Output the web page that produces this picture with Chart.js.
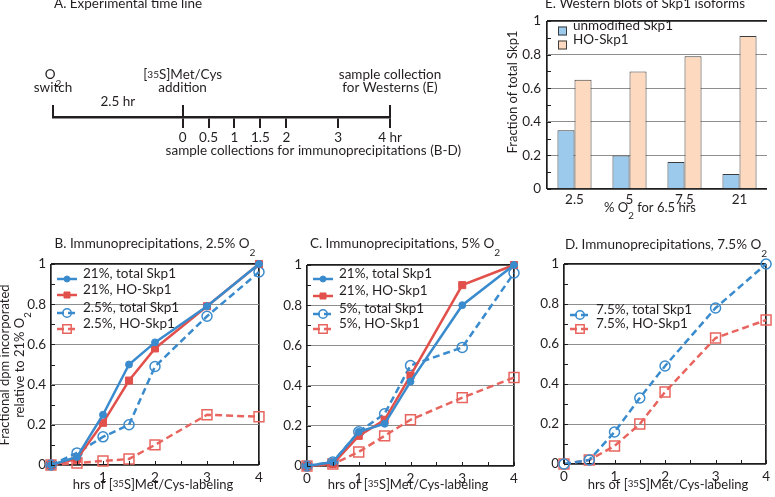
<!DOCTYPE html>
<html>
<head>
<meta charset="utf-8">
<script src="https://cdn.jsdelivr.net/npm/chart.js@4.4.0/dist/chart.umd.min.js"></script>
<style>
  body { margin: 0; background: #fff; }
  #wrap { position: relative; width: 775px; height: 497px; }
  #wrap canvas { position: absolute; left: 0; top: 0; }
</style>
</head>
<body>
<div id="wrap">
  <canvas id="timeline" width="775" height="497"></canvas>
  <canvas id="westerns" width="775" height="497"></canvas>
  <canvas id="ipB" width="775" height="497"></canvas>
  <canvas id="ipC" width="775" height="497"></canvas>
  <canvas id="ipD" width="775" height="497"></canvas>
</div>
<script>
Chart.defaults.font.family = "Lato, 'Open Sans', sans-serif";
Chart.defaults.font.size = 13.5;
Chart.defaults.color = "#231f20";

// A. time line
var sampleTimes = [0, 0.5, 1, 1.5, 2, 3, 4];
var switchLead = 2.5;
var eventTimes = [-2.5, 0, 4];
var eventLabels = [
  [["O", {sub: "2"}], ["switch"]],
  [["[", {sup: "35"}, "S]Met/Cys"], ["addition"]],
  [["sample collection"], ["for Westerns (E)"]]
];

// B-D. immunoprecipitations (x = hrs of labeling)
var hours = [0, 0.5, 1, 1.5, 2, 3, 4];
var b21Total = [0, 0.04, 0.25, 0.50, 0.61, 0.79, 1.0];
var b21HO    = [0, 0.03, 0.21, 0.42, 0.58, 0.79, 1.0];
var b25Total = [0, 0.06, 0.14, 0.20, 0.49, 0.74, 0.96];
var b25HO    = [0, 0.01, 0.02, 0.03, 0.10, 0.25, 0.24];
var c21Total = [0, 0.02, 0.17, 0.21, 0.42, 0.80, 1.0];
var c21HO    = [0, 0.01, 0.15, 0.23, 0.45, 0.90, 1.0];
var c5Total  = [0, 0.02, 0.17, 0.26, 0.50, 0.59, 0.96];
var c5HO     = [0, 0.01, 0.07, 0.15, 0.23, 0.34, 0.44];
var d75Total = [0, 0.02, 0.16, 0.33, 0.49, 0.78, 1.0];
var d75HO    = [0, 0.02, 0.09, 0.20, 0.36, 0.63, 0.72];

// E. western blots
var oxygenLevels = ["2.5", "5", "7.5", "21"];
var unmodifiedSkp1 = [0.35, 0.20, 0.16, 0.09];
var hoSkp1 = [0.65, 0.70, 0.79, 0.91];

var W = 775, H = 497;
var INK = "#231f20";
var EDGE = "#1e1e1e";
var GRID = "#8e8e8e";
var CLEAR = "rgba(0,0,0,0)";
var BLUE = "#3a8bcd";
var RED = "#e2504c";
var RED_LIGHT = "#e8655f";
var FONT = "Lato, 'Open Sans', sans-serif";

// text with sub/superscripts
function segText(s) { return typeof s === "string" ? s : (s.sub || s.sup); }
function segFont(s, size) {
  return (typeof s === "string" ? size : size * 0.75) + "px " + FONT;
}
function rich(ctx, segs, x, y, size, align) {
  var w = 0;
  segs.forEach(function (s) {
    ctx.font = segFont(s, size);
    w += ctx.measureText(segText(s)).width;
  });
  var cx = align === "center" ? x - w / 2 : (align === "right" ? x - w : x);
  ctx.textAlign = "left";
  ctx.textBaseline = "middle";
  ctx.fillStyle = INK;
  segs.forEach(function (s) {
    ctx.font = segFont(s, size);
    var dy = 0;
    if (s.sub) dy = size * 0.3;
    if (s.sup) dy = -size * 0.36;
    ctx.fillText(segText(s), cx, y + dy);
    cx += ctx.measureText(segText(s)).width;
  });
}
function richRotated(ctx, segs, x, y, size) {
  ctx.save();
  ctx.translate(x, y);
  ctx.rotate(-Math.PI / 2);
  rich(ctx, segs, 0, 0, size, "center");
  ctx.restore();
}

// the plot box comes from the grid lines at the ends of each axis
function yIsEdge(c) { return c.tick && (c.tick.value < 0.01 || c.tick.value > 0.99); }
function yGridColor(c) { return yIsEdge(c) ? EDGE : GRID; }
function yGridWidth(c) { return yIsEdge(c) ? 1.7 : 1; }
function xIsEdge(c) { return c.tick && (c.tick.value === 0 || c.tick.value === 4); }

// small inward ticks along the left and bottom edges
function innerTicks(chart, xStep, yStep) {
  var a = chart.chartArea, ctx = chart.ctx;
  var xs = chart.scales.x, ys = chart.scales.y;
  ctx.save();
  ctx.setLineDash([]);
  ctx.strokeStyle = EDGE;
  ctx.lineWidth = 1;
  ctx.beginPath();
  for (var v = 0; v <= 1.0001; v += yStep) {
    var py = Math.round(ys.getPixelForValue(v)) + 0.5;
    ctx.moveTo(a.left, py);
    ctx.lineTo(a.left + 4, py);
  }
  if (xStep) {
    for (var u = 0; u <= 4.0001; u += xStep) {
      var px = Math.round(xs.getPixelForValue(u)) + 0.5;
      ctx.moveTo(px, a.bottom);
      ctx.lineTo(px, a.bottom - 4);
    }
  }
  ctx.stroke();
  ctx.restore();
}

function padFor(area, yw, xh) {
  return { left: area.l - yw, top: area.t, right: W - area.r, bottom: H - area.b - xh };
}

function fmtY(v) { return String(Math.round(v * 10) / 10); }

function series(label, values, kind) {
  var dashed = kind.indexOf("dash") === 0;
  var square = kind.indexOf("Square") > 0;
  var color = square ? (dashed ? RED_LIGHT : RED) : BLUE;
  return {
    label: label,
    data: hours.map(function (h, i) { return { x: h, y: values[i] }; }),
    borderColor: color,
    borderWidth: 2.5,
    borderDash: dashed ? [7, 4] : [],
    pointStyle: square ? "rect" : "circle",
    pointRadius: dashed ? (square ? 7 : 5) : (square ? 5 : 3.5),
    pointBackgroundColor: dashed ? "rgba(255,255,255,0)" : color,
    pointBorderColor: color,
    pointBorderWidth: dashed ? 1.5 : 1,
    tension: 0,
    clip: false
  };
}

function ipPanel(id, p) {
  var yw = 40, xh = 24;
  new Chart(document.getElementById(id), {
    type: "line",
    data: { datasets: p.datasets },
    options: {
      responsive: false,
      animation: false,
      devicePixelRatio: 1,
      layout: { padding: padFor(p.area, yw, xh) },
      plugins: { legend: { display: false }, tooltip: { enabled: false } },
      scales: {
        x: {
          type: "linear", min: 0, max: 4,
          afterFit: function (s) { s.height = xh; },
          border: { display: false },
          grid: {
            display: true, drawTicks: false,
            color: function (c) { return xIsEdge(c) ? EDGE : CLEAR; },
            lineWidth: function (c) { return xIsEdge(c) ? 1.7 : 1; }
          },
          ticks: {
            stepSize: 1, padding: 5, maxRotation: 0,
            callback: function (v) { return (v === 0 && !p.showZero) ? "" : String(v); }
          }
        },
        y: {
          min: 0, max: 1,
          afterFit: function (s) { s.width = yw; },
          border: { display: false },
          grid: { drawTicks: false, color: yGridColor, lineWidth: yGridWidth },
          ticks: { stepSize: 0.2, padding: 5, callback: fmtY }
        }
      }
    },
    plugins: [{
      id: "decor" + id,
      afterDatasetsDraw: function (chart) {
        var ctx = chart.ctx, a = chart.chartArea;
        chart.data.datasets.forEach(function (ds, i) {
          var y = p.legendY[i], x0 = a.left + 6;
          ctx.save();
          ctx.strokeStyle = ds.borderColor;
          ctx.lineWidth = ds.borderWidth;
          ctx.setLineDash(ds.borderDash);
          ctx.beginPath();
          ctx.moveTo(x0, y);
          ctx.lineTo(x0 + 20, y);
          ctx.stroke();
          ctx.setLineDash([]);
          ctx.fillStyle = ds.pointBackgroundColor;
          ctx.strokeStyle = ds.pointBorderColor;
          ctx.lineWidth = ds.pointBorderWidth;
          Chart.helpers.drawPoint(ctx, {
            pointStyle: ds.pointStyle, rotation: 0,
            radius: ds.pointRadius * 0.85, borderWidth: ds.pointBorderWidth
          }, x0 + 10, y);
          ctx.restore();
          ctx.save();
          rich(ctx, [ds.label], x0 + 26, y, 13.5, "left");
          ctx.restore();
        });
        ctx.save();
        rich(ctx, p.title, p.titleX, p.titleY, 13.5, "center");
        rich(ctx, ["hrs of [", {sup: "35"}, "S]Met/Cys-labeling"], p.xTitleX, 489, 13, "center");
        if (p.yTitle) {
          richRotated(ctx, p.yTitle[0], 9, 365, 13);
          richRotated(ctx, p.yTitle[1], 24, 365, 13);
        }
        ctx.restore();
      },
      afterDraw: function (chart) {
        try { innerTicks(chart, 0.5, 0.1); } catch (e) { console.log(e); }
      }
    }]
  });
}

ipPanel("ipB", {
  area: { l: 51, t: 264, r: 259, b: 465 },
  showZero: false,
  datasets: [
    series("21%, total Skp1", b21Total, "solidCircle"),
    series("21%, HO-Skp1", b21HO, "solidSquare"),
    series("2.5%, total Skp1", b25Total, "dashCircle"),
    series("2.5%, HO-Skp1", b25HO, "dashSquare")
  ],
  legendY: [279, 295, 313, 329],
  title: ["B. Immunoprecipitations, 2.5% O", {sub: "2"}],
  titleX: 155, titleY: 249,
  xTitleX: 153,
  yTitle: [["Fractional dpm incorporated"], ["relative to 21% O", {sub: "2"}]]
});

ipPanel("ipC", {
  area: { l: 307, t: 265, r: 514, b: 466 },
  showZero: true,
  datasets: [
    series("21%, total Skp1", c21Total, "solidCircle"),
    series("21%, HO-Skp1", c21HO, "solidSquare"),
    series("5%, total Skp1", c5Total, "dashCircle"),
    series("5%, HO-Skp1", c5HO, "dashSquare")
  ],
  legendY: [279, 296, 314, 329],
  title: ["C. Immunoprecipitations, 5% O", {sub: "2"}],
  titleX: 405, titleY: 249,
  xTitleX: 408
});

ipPanel("ipD", {
  area: { l: 564, t: 264, r: 769, b: 464 },
  showZero: true,
  datasets: [
    series("7.5%, total Skp1", d75Total, "dashCircle"),
    series("7.5%, HO-Skp1", d75HO, "dashSquare")
  ],
  legendY: [315, 329],
  title: ["D. Immunoprecipitations, 7.5% O", {sub: "2"}],
  titleX: 666, titleY: 250,
  xTitleX: 668
});

// E. western blots
(function () {
  var area = { l: 547, t: 21, r: 767, b: 189 };
  var yw = 40, xh = 24;
  var lastLine = oxygenLevels.length;
  function catEdge(c) { return c.index === 0 || c.index === lastLine; }
  new Chart(document.getElementById("westerns"), {
    type: "bar",
    data: {
      labels: oxygenLevels,
      datasets: [
        { label: "unmodified Skp1", data: unmodifiedSkp1, backgroundColor: "#9ccaed", borderColor: "#3c3c3c", borderWidth: 1 },
        { label: "HO-Skp1", data: hoSkp1, backgroundColor: "#fdd9bf", borderColor: "#3c3c3c", borderWidth: 1 }
      ]
    },
    options: {
      responsive: false,
      animation: false,
      devicePixelRatio: 1,
      layout: { padding: padFor(area, yw, xh) },
      categoryPercentage: 0.62,
      barPercentage: 1.0,
      plugins: { legend: { display: false }, tooltip: { enabled: false } },
      scales: {
        x: {
          afterFit: function (s) { s.height = xh; },
          border: { display: false },
          grid: {
            display: true, offset: true, drawTicks: false,
            color: function (c) { return catEdge(c) ? EDGE : CLEAR; },
            lineWidth: function (c) { return catEdge(c) ? 1.7 : 1; }
          },
          ticks: { padding: 3, maxRotation: 0 }
        },
        y: {
          min: 0, max: 1,
          afterFit: function (s) { s.width = yw; },
          border: { display: false },
          grid: { drawTicks: false, color: yGridColor, lineWidth: yGridWidth },
          ticks: { stepSize: 0.2, padding: 6, callback: fmtY }
        }
      }
    },
    plugins: [{
      id: "decorE",
      afterDatasetsDraw: function (chart) {
        var ctx = chart.ctx, a = chart.chartArea;
        var rows = [31, 45];
        chart.data.datasets.forEach(function (ds, i) {
          ctx.save();
          ctx.fillStyle = ds.backgroundColor;
          ctx.strokeStyle = ds.borderColor;
          ctx.lineWidth = 1;
          ctx.fillRect(a.left + 11, rows[i] - 4.5, 9, 9);
          ctx.strokeRect(a.left + 11.5, rows[i] - 4, 8, 8);
          rich(ctx, [ds.label], a.left + 26, rows[i], 13.5, "left");
          ctx.restore();
        });
        ctx.save();
        rich(ctx, ["E. Western blots of Skp1 isoforms"], 645, 9, 13.5, "center");
        rich(ctx, ["% O", {sub: "2"}, " for 6.5 hrs"], 650, 212, 13, "center");
        richRotated(ctx, ["Fraction of total Skp1"], 517, 92, 13);
        ctx.restore();
      },
      afterDraw: function (chart) {
        try { innerTicks(chart, 0, 0.1); } catch (e) { console.log(e); }
      }
    }]
  });
})();

// A. experimental time line
(function () {
  var area = { l: 53, t: 30, r: 390, b: 117 };
  var xh = 30;
  new Chart(document.getElementById("timeline"), {
    type: "scatter",
    data: { datasets: [{ data: [] }] },
    options: {
      responsive: false,
      animation: false,
      devicePixelRatio: 1,
      layout: { padding: { left: area.l, top: area.t, right: W - area.r, bottom: H - area.b - xh } },
      plugins: { legend: { display: false }, tooltip: { enabled: false } },
      scales: {
        x: {
          type: "linear",
          min: -switchLead, max: sampleTimes[sampleTimes.length - 1],
          afterFit: function (s) { s.height = xh; },
          afterBuildTicks: function (s) { s.ticks = sampleTimes.map(function (t) { return { value: t }; }); },
          border: { display: true, width: 2.5, color: INK },
          grid: { drawOnChartArea: false, drawTicks: true, tickLength: 11, lineWidth: 2, color: INK },
          ticks: {
            padding: 2, autoSkip: false, maxRotation: 0,
            callback: function (v) { return v === sampleTimes[sampleTimes.length - 1] ? v + " hr" : String(v); }
          }
        },
        y: { display: false, min: 0, max: 1 }
      }
    },
    plugins: [{
      id: "decorA",
      afterDraw: function (chart) {
        var ctx = chart.ctx, xs = chart.scales.x, base = chart.chartArea.bottom;
        ctx.save();
        ctx.strokeStyle = INK;
        ctx.lineWidth = 2;
        ctx.beginPath();
        eventTimes.forEach(function (t) {
          var px = Math.round(xs.getPixelForValue(t));
          ctx.moveTo(px, base);
          ctx.lineTo(px, base - 12);
        });
        ctx.stroke();
        eventTimes.forEach(function (t, i) {
          var px = xs.getPixelForValue(t);
          rich(ctx, eventLabels[i][0], px, 80, 13.5, "center");
          rich(ctx, eventLabels[i][1], px, 93, 13.5, "center");
        });
        rich(ctx, [switchLead + " hr"], xs.getPixelForValue(-switchLead / 2), 107, 13.5, "center");
        rich(ctx, ["sample collections for immunoprecipitations (B-D)"], xs.getPixelForValue(0) - 17, 156, 13.5, "left");
        rich(ctx, ["A. Experimental time line"], 54, 9, 13.5, "left");
        ctx.restore();
      }
    }]
  });
})();
</script>
</body>
</html>
